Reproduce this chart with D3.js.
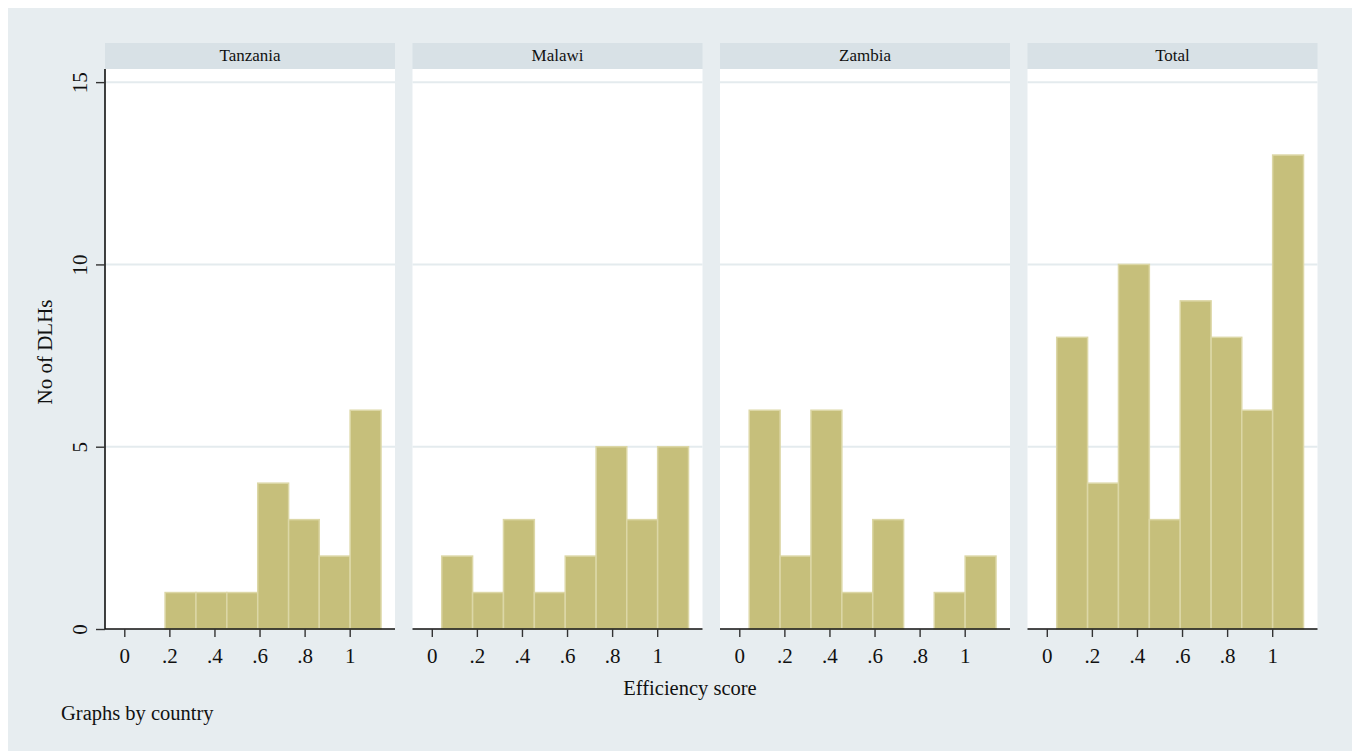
<!DOCTYPE html>
<html>
<head>
<meta charset="utf-8">
<script src="https://cdn.jsdelivr.net/npm/d3@7"></script>
<style>
  body { margin: 0; background: #ffffff; }
  svg text { font-family: "Liberation Serif", "Times New Roman", serif; fill: #111; }
</style>
</head>
<body>
<div id="chart"></div>
<script>
// Histogram of efficiency scores, one panel per country
const countries = ["Tanzania", "Malawi", "Zambia", "Total"];
const binEdges = [0.044, 0.181, 0.318, 0.455, 0.592, 0.729, 0.865, 1.002, 1.139];
const tanzania = [0, 1, 1, 1, 4, 3, 2, 6];
const malawi = [2, 1, 3, 1, 2, 5, 3, 5];
const zambia = [6, 2, 6, 1, 3, 0, 1, 2];
const total = [8, 4, 10, 3, 9, 8, 6, 13];
const xTicks = [0, 0.2, 0.4, 0.6, 0.8, 1];
const xTickLabels = ["0", ".2", ".4", ".6", ".8", "1"];
const yTicks = [0, 5, 10, 15];

const seriesByCountry = [tanzania, malawi, zambia, total];

const width = 1354, height = 751;
const panelLeft = 105, panelStep = 307.5, panelW = 290;
const headerTop = 43, plotTop = 69, plotBottom = 629;

const svg = d3.select("#chart").append("svg")
    .attr("width", width)
    .attr("height", height);

// graph region background
svg.append("rect")
    .attr("x", 8).attr("y", 8)
    .attr("width", width - 10).attr("height", height - 8)
    .attr("fill", "#e7edf0");

const x = d3.scaleLinear().domain([-0.0856, 1.201]).range([0, panelW]);
const y = d3.scaleLinear().domain([0, 15.36]).range([plotBottom, plotTop]);

countries.forEach((name, i) => {
    const values = seriesByCountry[i];
    const g = svg.append("g")
        .attr("transform", `translate(${panelLeft + i * panelStep},0)`);

    // strip header
    g.append("rect")
        .attr("x", 0).attr("y", headerTop)
        .attr("width", panelW).attr("height", plotTop - headerTop)
        .attr("fill", "#d8e1e6");
    g.append("text")
        .attr("x", panelW / 2).attr("y", 61)
        .attr("text-anchor", "middle")
        .attr("font-size", 17)
        .text(name);

    // plot area
    g.append("rect")
        .attr("x", 0).attr("y", plotTop)
        .attr("width", panelW).attr("height", plotBottom - plotTop)
        .attr("fill", "#ffffff");

    // gridlines
    g.selectAll(".grid")
        .data(yTicks.filter(d => d > 0))
        .enter().append("line")
        .attr("class", "grid")
        .attr("x1", 0).attr("x2", panelW)
        .attr("y1", d => y(d)).attr("y2", d => y(d))
        .attr("stroke", "#e4ebee")
        .attr("stroke-width", 2);

    // bars
    const bins = values.map((v, j) => ({ x0: binEdges[j], x1: binEdges[j + 1], n: v }))
        .filter(d => d.n > 0);
    g.selectAll(".bar")
        .data(bins)
        .enter().append("rect")
        .attr("class", "bar")
        .attr("x", d => x(d.x0))
        .attr("width", d => x(d.x1) - x(d.x0))
        .attr("y", d => y(d.n))
        .attr("height", d => y(0) - y(d.n))
        .attr("fill", "#c6bf7b")
        .attr("stroke", "#dcd7a6")
        .attr("stroke-width", 1.5);

    // x axis
    const xAxis = g.append("g")
        .attr("transform", `translate(0,${plotBottom})`)
        .call(d3.axisBottom(x)
            .tickValues(xTicks)
            .tickFormat((d, k) => xTickLabels[k])
            .tickSize(8)
            .tickPadding(11));
    xAxis.select(".domain")
        .attr("d", `M0,0H${panelW}`)
        .attr("stroke", "#111")
        .attr("stroke-width", 1.6);
    xAxis.selectAll(".tick line").attr("stroke", "#333").attr("stroke-width", 1.4);
    xAxis.selectAll(".tick text")
        .attr("font-family", "Liberation Serif, serif")
        .attr("font-size", 21)
        .attr("fill", "#111");

    // y axis only on first panel
    if (i === 0) {
        const yAxis = g.append("g")
            .call(d3.axisLeft(y)
                .tickValues(yTicks)
                .tickSize(9)
                .tickFormat(d3.format("d")));
        yAxis.select(".domain")
            .attr("d", `M0,${plotTop}V${plotBottom}`)
            .attr("stroke", "#111")
            .attr("stroke-width", 1.6);
        yAxis.selectAll(".tick line").attr("stroke", "#333").attr("stroke-width", 1.4);
        yAxis.selectAll(".tick text")
            .attr("font-family", "Liberation Serif, serif")
            .attr("font-size", 21)
            .attr("fill", "#111")
            .attr("text-anchor", "middle")
            .attr("x", 0).attr("dy", 0)
            .attr("transform", "translate(-18,0) rotate(-90)");
    }
});

// axis titles and note
svg.append("text")
    .attr("transform", `translate(52,${(plotTop + plotBottom) / 2 + 3}) rotate(-90)`)
    .attr("text-anchor", "middle")
    .attr("font-size", 21)
    .text("No of DLHs");

svg.append("text")
    .attr("x", 690).attr("y", 695)
    .attr("text-anchor", "middle")
    .attr("font-size", 20.5)
    .text("Efficiency score");

svg.append("text")
    .attr("x", 61).attr("y", 720)
    .attr("font-size", 20.5)
    .text("Graphs by country");
</script>
</body>
</html>
